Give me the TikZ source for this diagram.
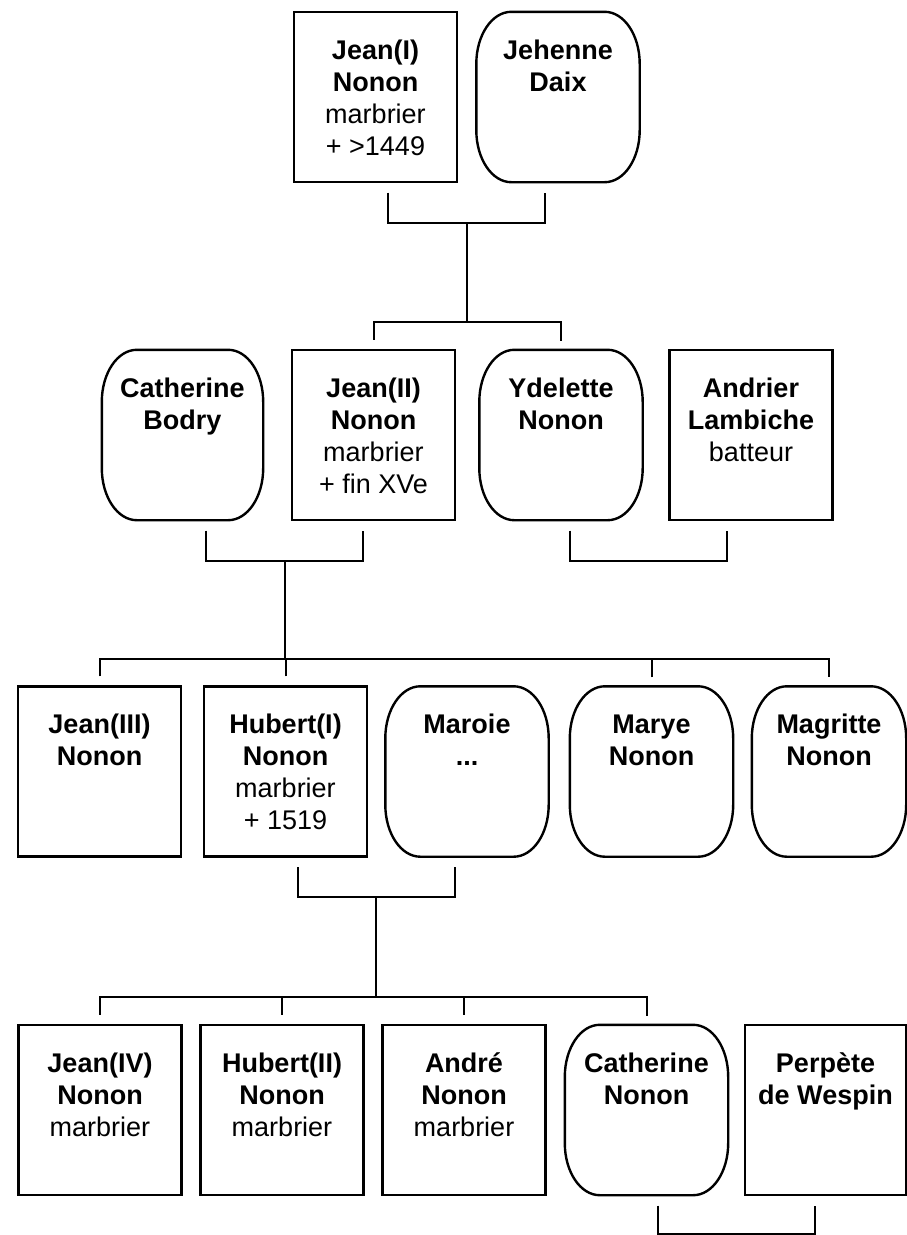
\documentclass[tikz,border=0pt]{standalone}
\usepackage{fontspec}
\setmainfont{Liberation Sans}
\usetikzlibrary{calc,scopes}

\newcommand{\fiche}[2][163pt]{\parbox[c][170pt][t]{#1}{\centering\rule{0pt}{47pt}#2}}
\newcommand{\nom}[2]{\textbf{#1}\\\textbf{#2}}

\begin{document}
\begin{tikzpicture}[
    x=1pt, y=-1pt,
    font=\fontsize{27}{32}\selectfont,
    homme/.style={rectangle,draw,line width=2.4pt,inner sep=0pt},
    femme/.style={rectangle,inner sep=0pt},
    cadre/.style={line width=2.4pt},
    link/.style={line width=2pt},
]

\useasboundingbox[fill=white] (0,0) rectangle (907,1235);

%%%
% Generation I
\node[homme] (jeanI) at (375.5,97) {\fiche{\nom{Jean(I)}{Nonon}\\marbrier\\+ >1449}};
\node[femme] (jehenne) at (558,97) {\fiche{\nom{Jehenne}{Daix}}};

%%%
% Generation II
\node[femme] (catB) at (182.5,435) {\fiche[161pt]{\nom{Catherine}{Bodry}}};
\node[homme] (jeanII) at (373.5,435) {\fiche{\nom{Jean(II)}{Nonon}\\marbrier\\+ fin XVe}};
\node[femme] (ydelette) at (561,435) {\fiche{\nom{Ydelette}{Nonon}}};
\node[homme] (andrier) at (751,435) {\fiche{\nom{Andrier}{Lambiche}\\batteur}};

%%%
% Generation III
\node[homme] (jeanIII) at (99.5,771.5) {\fiche{\nom{Jean(III)}{Nonon}}};
\node[homme] (hubertI) at (285.5,771.5) {\fiche{\nom{Hubert(I)}{Nonon}\\marbrier\\+ 1519}};
\node[femme] (maroie) at (467,771.5) {\fiche{\nom{Maroie}{...}}};
\node[femme] (marye) at (651.5,771.5) {\fiche{\nom{Marye}{Nonon}}};
\node[femme] (magritte) at (829,771.5) {\fiche[154pt]{\nom{Magritte}{Nonon}}};

%%%
% Generation IV
\node[homme] (jeanIV) at (100,1110) {\fiche{\nom{Jean(IV)}{Nonon}\\marbrier}};
\node[homme] (hubertII) at (282,1110) {\fiche{\nom{Hubert(II)}{Nonon}\\marbrier}};
\node[homme] (andre) at (464,1110) {\fiche{\nom{André}{Nonon}\\marbrier}};
\node[femme] (catN) at (646.5,1110) {\fiche{\nom{Catherine}{Nonon}}};
\node[homme] (perpete) at (825.5,1110) {\fiche[161pt]{\nom{Perpète}{de Wespin}}};

% rounded frames for the women
\foreach \f in {jehenne,catB,ydelette,maroie,marye,magritte,catN}
    \draw[cadre] ([xshift=35pt]\f.north west) -- ([xshift=-35pt]\f.north east)
        arc[start angle=90, end angle=0, x radius=35pt, y radius=52pt]
        -- ([yshift=52pt]\f.south east)
        arc[start angle=0, end angle=-90, x radius=35pt, y radius=52pt]
        -- ([xshift=35pt]\f.south west)
        arc[start angle=270, end angle=180, x radius=35pt, y radius=52pt]
        -- ([yshift=-52pt]\f.north west)
        arc[start angle=180, end angle=90, x radius=35pt, y radius=52pt]
        -- cycle;

%%%
% Couples (shift of the bracket, height of the bracket)
\foreach \a/\b/\u/\d/\h in {jeanI/jehenne/u1/0/30, catB/jeanII/u2/6.5/30,
                            ydelette/andrier/u3/-7.5/30, hubertI/maroie/u4/0/30,
                            catN/perpete/u5/0/28}
    \draw[link] ($(\a.south)!.5!(\b.south)$) ++(\d-78.5,10) -- ++(0,\h)
        -- ++(157,0) coordinate[pos=.5] (\u) -- ++(0,-\h);

%%%
% Children
\path ([yshift=27pt]jeanII.north) coordinate (r2);
\path ([yshift=26pt]jeanIII.north) coordinate (r3);
\path ([yshift=27pt]jeanIV.north) coordinate (r4);
{[link]
    \draw (u1) -- (u1 |- r2);
    \draw ([yshift=9pt]jeanII.north) |- (r2 -| ydelette.north) -- ([yshift=9pt]ydelette.north);

    \draw (u2) -- (u2 |- r3);
    \draw ([yshift=9pt]jeanIII.north) |- (r3 -| magritte.north) -- ([yshift=9pt]magritte.north);
    \foreach \k in {hubertI,marye}
        \draw ([yshift=9pt]\k.north) -- (\k.north |- r3);

    \draw (u4) -- (u4 |- r4);
    \draw ([yshift=9pt]jeanIV.north) |- (r4 -| catN.north) -- ([yshift=9pt]catN.north);
    \foreach \k in {hubertII,andre}
        \draw ([yshift=9pt]\k.north) -- (\k.north |- r4);
}

\end{tikzpicture}
\end{document}
